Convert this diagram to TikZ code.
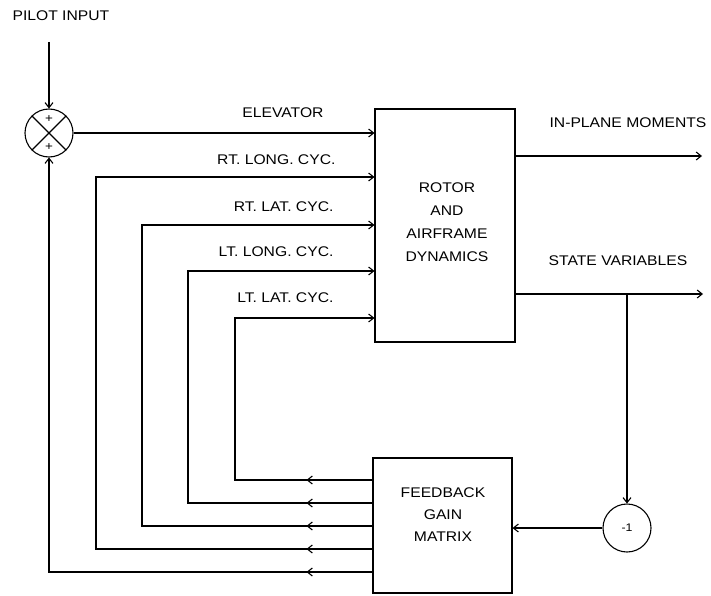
\documentclass[tikz,border=0pt]{standalone}
\usepackage{fontspec}
\setmainfont{Liberation Sans}[FakeStretch=1.12]
\usetikzlibrary{arrows.meta,decorations.markings}
\begin{document}
\begin{tikzpicture}[x=1pt,y=-1pt,
  line width=1.1pt,
  tip/.style={-{Straight Barb[length=5pt,width=8pt,line width=1.1pt]}},
  lbl/.style={font=\fontsize{14}{23}\selectfont, inner sep=0pt},
  blk/.style={draw, rectangle, inner sep=0pt},
  junc/.style={draw, circle, minimum size=48pt, inner sep=0pt},
  midtip/.style={postaction={decorate}, decoration={markings,
     mark=at position 66pt with {\arrow{Straight Barb[length=5pt,width=8pt,line width=1.1pt]}}}}
]
\useasboundingbox (0,0) rectangle (711,596);

% blocks
\node[blk, minimum width=140pt, minimum height=233pt] (rotor) at (445,225.5) {};
\node[blk, minimum width=139pt, minimum height=135pt] (fb) at (442.5,525.5) {};
\node[lbl, align=center] (rotortext) at (447,222) {ROTOR\\AND\\AIRFRAME\\DYNAMICS};
\node[lbl, align=center, font=\fontsize{14}{22}\selectfont] (fbtext) at (443,515) {FEEDBACK\\GAIN\\MATRIX};

% summing junction
\node[junc] (sum) at (49,133) {};
\draw (sum.north west) -- (sum.south east);
\draw (sum.north east) -- (sum.south west);
\node[lbl, font=\fontsize{12}{12}\selectfont] (plus1) at (49,119) {+};
\node[lbl, font=\fontsize{12}{12}\selectfont] (plus2) at (49,147) {+};

% -1 gain
\node[junc, font=\fontsize{11}{11}\selectfont] (neg) at (627,528) {-1};

% pilot input
\node[lbl, anchor=west] (pilot) at (12,16) {PILOT INPUT};
\coordinate (pin) at (49,42);
\draw[tip] (pin) -- (sum.north);

% elevator
\draw[tip] (sum.east) -- (rotor.west |- sum.east);
\node[lbl] (elev) at (283,113) {ELEVATOR};

% feedback loops
\draw[tip, midtip] (fb.west |- 0,572) -- (49,572) -- (sum.south);
\draw[tip, midtip] (fb.west |- 0,549) -- (96,549) -- (96,177) -- (rotor.west |- 0,177);
\draw[tip, midtip] (fb.west |- 0,526) -- (142,526) -- (142,225) -- (rotor.west |- 0,225);
\draw[tip, midtip] (fb.west |- 0,503) -- (188,503) -- (188,271) -- (rotor.west |- 0,271);
\draw[tip, midtip] (fb.west |- 0,480) -- (235,480) -- (235,318) -- (rotor.west |- 0,318);

\node[lbl, anchor=east] (rtlong) at (336,160) {RT. LONG. CYC.};
\node[lbl, anchor=east] (rtlat) at (334,207) {RT. LAT. CYC.};
\node[lbl, anchor=east] (ltlong) at (334,252) {LT. LONG. CYC.};
\node[lbl, anchor=east] (ltlat) at (334,298) {LT. LAT. CYC.};

% outputs
\coordinate (mout) at (702,156);
\coordinate (sout) at (703,294);
\coordinate (branch) at (627,294);
\draw[tip] (rotor.east |- mout) -- (mout);
\draw[tip] (rotor.east |- sout) -- (sout);
\node[lbl] (mlbl) at (628,123) {IN-PLANE MOMENTS};
\node[lbl] (slbl) at (618,261) {STATE VARIABLES};

\draw[tip] (branch) -- (neg.north);
\draw[tip] (neg.west) -- (fb.east |- neg.west);
\end{tikzpicture}
\end{document}
